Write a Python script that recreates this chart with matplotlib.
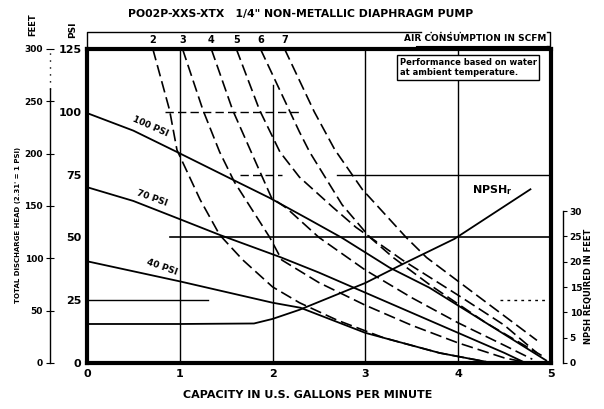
import numpy as np
import matplotlib.pyplot as plt
from matplotlib.transforms import blended_transform_factory

plt.rcParams['font.family'] = ['DejaVu Sans']
plt.rcParams['font.weight'] = 'bold'

# head curves (air inlet pressure), x = GPM, y = PSI
gpm_100 = [0, 0.5, 0.97, 1.57, 1.97, 2.4, 2.75, 3.26, 3.69, 4.3, 4.95]
psi_100 = [99.5, 92.5, 84, 73, 65.7, 57, 49.8, 38, 30, 16, 1]
gpm_70 = [0, 0.5, 0.97, 1.43, 2.08, 2.5, 3.0, 3.5, 4.0, 4.5, 4.7]
psi_70 = [70, 64.5, 57.7, 51, 42.2, 36, 28, 20, 12, 4, 0.5]
gpm_40 = [0, 1.0, 2.0, 2.3, 3.0, 3.8, 4.3]
psi_40 = [40.5, 32.5, 24, 22, 12, 4, 0.5]

# air consumption curves (SCFM)
scfm = [2, 3, 4, 5, 6, 7]
scfm_gpm = [
    [0.71, 0.89, 0.97, 1.22, 1.43, 1.68, 2.0, 2.29, 2.7, 3.2, 3.8, 4.3],
    [1.03, 1.25, 1.43, 1.59, 1.97, 2.1, 2.5, 3.0, 3.5, 4.0, 4.5, 4.7],
    [1.34, 1.57, 1.77, 1.99, 2.15, 2.5, 3.0, 3.5, 4.0, 4.5, 4.8],
    [1.61, 1.86, 2.08, 2.29, 2.65, 2.9, 3.4, 4.0, 4.5, 4.85],
    [1.87, 2.29, 2.4, 2.75, 3.05, 3.3, 3.7, 4.3, 4.9],
    [2.13, 2.45, 2.67, 2.97, 3.44, 3.66, 4.2, 4.85],
]
scfm_psi = [
    [125, 100.7, 84.8, 65, 51, 41, 30.3, 24, 17, 10, 4, 0.5],
    [125, 100.7, 84, 72, 50, 41, 32, 23, 15, 8, 2, 0.5],
    [125, 100.7, 84, 65.7, 61.7, 50, 37, 26, 16, 7, 1.5],
    [125, 100.7, 84, 74, 62, 54, 41, 27, 15, 4],
    [125, 92, 84, 63, 50, 42, 31, 16, 3],
    [125, 100, 85, 69, 50, 42, 27, 9],
]

# NPSH required (feet)
npsh_gpm = [0, 1.0, 1.8, 2.0, 2.29, 3.0, 3.4, 3.96, 4.78]
npsh_ft = [7.7, 7.7, 7.8, 8.7, 10.5, 15.8, 19.5, 24.5, 34.3]

fig = plt.figure(figsize=(6.04, 4.09), dpi=100)
ax = fig.add_axes([0.144, 0.1125, 0.768, 0.7677])
ax.set_xlim(0, 5)
ax.set_ylim(0, 125)

# partial grid like the original sheet
ax.plot([1, 1], [0, 125], color='black', lw=1)
ax.plot([2, 2], [0, 110.7], color='black', lw=1)
ax.plot([3, 3], [0, 125], color='black', lw=1)
ax.plot([4, 4], [0, 125], color='black', lw=1)
ax.plot([0.84, 2.3], [100, 100], color='black', lw=1, ls=(0, (6, 3)))
ax.plot([1.65, 2.1], [75, 75], color='black', lw=1, ls=(0, (6, 3)))
ax.plot([2.7, 5], [75, 75], color='black', lw=1)
ax.plot([0.9, 5], [50, 50], color='black', lw=1.2)
ax.plot([0, 1.3], [25, 25], color='black', lw=1)
ax.plot([4.45, 5], [25, 25], color='black', lw=1, ls=(0, (2, 3)))

# head curves
for g, p in [(gpm_100, psi_100), (gpm_70, psi_70), (gpm_40, psi_40)]:
    ax.plot(g, p, color='black', lw=1.3)

# air consumption curves
for g, p in zip(scfm_gpm, scfm_psi):
    ax.plot(g, p, color='black', lw=1.2, ls=(0, (7, 3)))

ax.text(0.68, 94, '100 PSI', rotation=-24, ha='center', va='center', fontsize=6.5)
ax.text(0.70, 65.7, '70 PSI', rotation=-20, ha='center', va='center', fontsize=6.5)
ax.text(0.81, 38.2, '40 PSI', rotation=-20, ha='center', va='center', fontsize=6.5)
ax.text(4.15, 69, r'NPSH$_\mathregular{r}$', ha='left', va='center', fontsize=8)
ax.text(3.37, 121.5, 'Performance based on water\nat ambient temperature.',
        ha='left', va='top', fontsize=6, linespacing=1.2,
        bbox=dict(boxstyle='square,pad=0.3', fc='white', ec='black', lw=1))

# main frame
for s in ax.spines.values():
    s.set_linewidth(3)
ax.set_xticks(range(6))
ax.set_yticks([0, 25, 50, 75, 100, 125])
ax.tick_params(axis='both', length=0, labelsize=8, pad=4)
ax.set_xlabel('CAPACITY IN U.S. GALLONS PER MINUTE', fontsize=8, fontweight='bold', labelpad=9)
ax.xaxis.set_label_coords(0.475, -0.085)

# NPSH axis on the right (spine offset in points: 12 px at 100 dpi)
ax2 = ax.twinx()
ax2.set_ylim(0, 62)
ax2.plot(npsh_gpm, npsh_ft, color='black', lw=1.3)
for k in ['top', 'left', 'bottom']:
    ax2.spines[k].set_visible(False)
ax2.spines['right'].set_position(('outward', 8.6))
ax2.spines['right'].set_bounds(0, 30)
ax2.spines['right'].set_linewidth(1)
ax2.set_yticks([0, 5, 10, 15, 20, 25, 30])
ax2.tick_params(axis='y', length=3, labelsize=6.5, pad=2)

# feet axis on the left (37 px outward)
ax3 = ax.twinx()
ax3.set_ylim(0, 300)
ax3.yaxis.set_ticks_position('left')
for k in ['top', 'right', 'bottom']:
    ax3.spines[k].set_visible(False)
ax3.spines['left'].set_position(('outward', 26.6))
ax3.spines['left'].set_bounds(0, 262)
ax3.spines['left'].set_linewidth(1)
ax3.set_yticks([0, 50, 100, 150, 200, 250, 300])
ax3.tick_params(axis='y', direction='inout', length=6, labelsize=6.5, pad=2)
ax3.plot([0, 0], [262, 300], transform=blended_transform_factory(ax3.spines['left'].get_spine_transform(), ax3.transData),
         color='black', lw=1, ls=(0, (1, 4)), clip_on=False)

# top air consumption scale
tr = blended_transform_factory(ax.transData, ax.transAxes)
for s, g in zip(scfm, scfm_gpm):
    ax.text(g[0], 1.03, str(s), transform=tr, ha='center', va='center', fontsize=7)
ax.plot([0, 0, 3.6], [1.0, 1.054, 1.054], transform=tr, color='black', lw=1, clip_on=False)
ax.plot([3.7, 4.1], [1.054, 1.054], transform=tr, color='black', lw=1, ls=(0, (1, 6)), clip_on=False)
ax.text(4.95, 1.032, 'AIR CONSUMPTION IN SCFM', transform=tr, ha='right', va='center', fontsize=6.5)
ax.plot([3.55, 4.95], [1.01, 1.01], transform=tr, color='black', lw=0.8, clip_on=False)
ax.plot([4.96, 4.99, 4.99, 4.96], [1.055, 1.055, 1.008, 1.008], transform=tr, color='black', lw=1, clip_on=False)

fig.text(0.498, 0.966, 'PO02P-XXS-XTX   1/4" NON-METALLIC DIAPHRAGM PUMP', ha='center', va='center', fontsize=7.8, fontweight='bold')
fig.text(0.055, 0.94, 'FEET', rotation=90, ha='center', va='center', fontsize=6)
fig.text(0.121, 0.927, 'PSI', rotation=90, ha='center', va='center', fontsize=6.5)
fig.text(0.03, 0.45, "TOTAL DISCHARGE HEAD (2.31' = 1 PSI)", rotation=90, ha='center', va='center', fontsize=5)
fig.text(0.975, 0.30, 'NPSH REQUIRED IN FEET', rotation=90, ha='center', va='center', fontsize=6)

fig.savefig('out.png', dpi=100)
